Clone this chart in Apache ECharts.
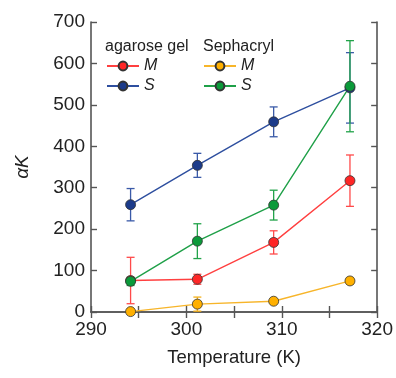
<!DOCTYPE html>
<html>
<head>
<meta charset="utf-8">
<script src="https://cdn.jsdelivr.net/npm/echarts@6/dist/echarts.min.js"></script>
<style>
html,body{margin:0;padding:0;background:#fff;}
#chart{width:396px;height:378px;}
</style>
</head>
<body>
<div id="chart"></div>
<script>
// temperatures (K)
var temps = [294.15, 301.15, 309.15, 317.15];
// alpha K values, with error half-widths
var agaroseM = [76, 79, 168, 317];
var agaroseMErr = [56, 12, 28, 62];
var agaroseS = [259, 354, 459, 541];
var agaroseSErr = [39, 29, 36, 85];
var sephM = [1, 19, 26, 75];
var sephMErr = [0, 17, 0, 8];
var sephS = [74, 171, 258, 545];
var sephSErr = [10, 42, 36, 110];

var font = 'Liberation Sans, Arial, sans-serif';
var axisColor = '#555';

function pairs(ys){
    return temps.map(function(t,i){ return [t, ys[i]]; });
}
function errData(ys, err){
    return temps.map(function(t,i){ return [t, ys[i]-err[i], ys[i]+err[i]]; });
}

//误差线
function errSeries(ys, err, color){
    return {
        type:'custom',
        data:errData(ys, err),
        silent:true,
        z:1,
        renderItem:function(params, api){
            var lo = api.coord([api.value(0), api.value(1)]);
            var hi = api.coord([api.value(0), api.value(2)]);
            if (Math.abs(hi[1]-lo[1]) < 1) return;
            var w = 4;
            var st = {stroke:color, lineWidth:1.3};
            return {type:'group', children:[
                {type:'line', shape:{x1:lo[0],y1:lo[1],x2:hi[0],y2:hi[1]}, style:st},
                {type:'line', shape:{x1:lo[0]-w,y1:lo[1],x2:lo[0]+w,y2:lo[1]}, style:st},
                {type:'line', shape:{x1:hi[0]-w,y1:hi[1],x2:hi[0]+w,y2:hi[1]}, style:st}
            ]};
        }
    };
}

function lineSeries(name, ys, lineColor, fill){
    return {
        name:name,
        type:'line',
        data:pairs(ys),
        symbol:'circle',
        symbolSize:10,
        z:3,
        lineStyle:{color:lineColor, width:1.4},
        itemStyle:{color:fill, borderColor:'#333', borderWidth:0.8},
        emphasis:{disabled:true}
    };
}

var chart = echarts.init(document.getElementById('chart'));

var legendBase = {
    orient:'vertical',
    itemWidth:32,
    itemHeight:11,
    itemGap:4,
    textStyle:{fontFamily:font, fontSize:16, fontStyle:'italic', color:'#222'},
    formatter:function(name){ return name.split(' ').pop(); },
    selectedMode:false
};

var option = {
    animation:false,
    grid:{left:91, right:16, top:22, bottom:66},
    graphic:[
        {type:'text', left:105, top:39, style:{text:'agarose gel', font:'16px ' + font, fill:'#222'}},
        {type:'text', left:203, top:39, style:{text:'Sephacryl', font:'16px ' + font, fill:'#222'}}
    ],
    legend:[
        Object.assign({left:101, top:53, data:['agarose M','agarose S']}, legendBase),
        Object.assign({left:198, top:53, data:['Sephacryl M','Sephacryl S']}, legendBase)
    ],
    xAxis:[
        {
            type:'value', min:290, max:320, interval:5,
            name:'Temperature (K)', nameLocation:'middle', nameGap:36,
            nameTextStyle:{fontFamily:font, fontSize:18.5, color:'#222'},
            axisLine:{lineStyle:{color:axisColor, width:1.6}},
            axisTick:{inside:true, length:6, lineStyle:{color:axisColor, width:1.4}},
            axisLabel:{fontFamily:font, fontSize:19, color:'#222', margin:8,
                formatter:function(v){ return v%10===0 ? v : ''; }},
            splitLine:{show:false}
        },
        {
            type:'value', min:290, max:320, interval:5, position:'top',
            axisLine:{lineStyle:{color:axisColor, width:1.6}},
            axisTick:{inside:true, length:6, lineStyle:{color:axisColor, width:1.4}},
            axisLabel:{show:false},
            splitLine:{show:false}
        }
    ],
    yAxis:[
        {
            type:'value', min:0, max:700, interval:100,
            name:'αK', nameLocation:'middle', nameGap:59, nameRotate:90,
            nameTextStyle:{fontFamily:font, fontSize:19, fontStyle:'italic', color:'#222'},
            axisLine:{show:true, lineStyle:{color:axisColor, width:1.6}},
            axisTick:{show:true, inside:true, length:6, lineStyle:{color:axisColor, width:1.4}},
            axisLabel:{fontFamily:font, fontSize:19, color:'#222', margin:6},
            splitLine:{show:false}
        },
        {
            type:'value', min:0, max:700, interval:100, position:'right',
            axisLine:{show:true, lineStyle:{color:axisColor, width:1.6}},
            axisTick:{show:true, inside:true, length:6, lineStyle:{color:axisColor, width:1.4}},
            axisLabel:{show:false},
            splitLine:{show:false}
        }
    ],
    series:[
        errSeries(sephM, sephMErr, '#f5b01a'),
        errSeries(agaroseM, agaroseMErr, '#ff4a4a'),
        errSeries(agaroseS, agaroseSErr, '#3a5aa8'),
        errSeries(sephS, sephSErr, '#22a34a'),
        lineSeries('Sephacryl M', sephM, '#f7b52a', '#ffb000'),
        lineSeries('agarose M', agaroseM, '#ff4040', '#ff2626'),
        lineSeries('agarose S', agaroseS, '#2e4f9f', '#1c3b8a'),
        lineSeries('Sephacryl S', sephS, '#1fa048', '#0b9a3a')
    ]
};
chart.setOption(option);
</script>
</body>
</html>
